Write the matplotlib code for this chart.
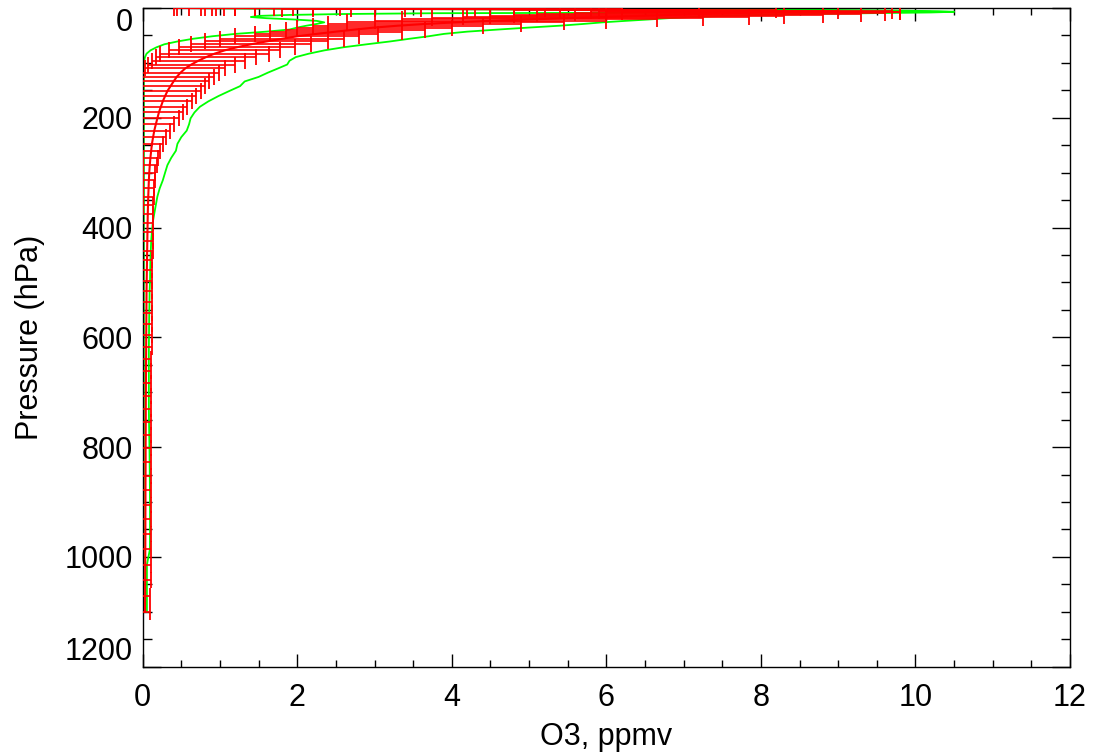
import numpy as np
import matplotlib
matplotlib.use('Agg')
import matplotlib.pyplot as plt
from matplotlib.ticker import MultipleLocator

plt.rcParams['font.family'] = ['Liberation Sans', 'DejaVu Sans']

# pressure levels (hPa)
pressure = [
	0.016, 0.038, 0.077, 0.137, 0.224, 0.345, 0.506, 0.714, 0.975, 1.297,
	1.687, 2.153, 2.701, 3.340, 4.077, 4.920, 5.878, 6.957, 8.165, 9.512,
	11.00, 12.65, 14.46, 16.43, 18.58, 20.92, 23.45, 26.18, 29.12, 32.27,
	35.65, 39.26, 43.10, 47.19, 51.53, 56.13, 60.99, 66.13, 71.54, 77.24,
	83.23, 89.52, 96.11, 103.0, 110.2, 117.8, 125.6, 133.8, 142.4, 151.3,
	160.5, 170.1, 180.0, 190.3, 201.0, 212.0, 223.4, 235.2, 247.4, 260.0,
	272.9, 286.3, 300.0, 314.1, 328.7, 343.6, 359.0, 374.7, 390.9, 407.5,
	424.5, 441.9, 459.7, 478.0, 496.6, 515.7, 535.2, 555.2, 575.5, 596.3,
	617.5, 639.1, 661.2, 683.7, 706.6, 729.9, 753.6, 777.8, 802.4, 827.4,
	852.8, 878.6, 904.9, 931.5, 958.6, 986.1, 1013.9, 1042.2, 1070.9, 1100.0,
]

# mean O3 (ppmv)
o3_mean = [
	0.6, 0.7, 0.9, 1.1, 1.3, 1.5, 1.7, 2.0, 2.4, 2.9,
	3.5, 4.3, 5.2, 6.0, 6.8, 7.4, 7.8, 8.0, 7.9, 7.6,
	7.2, 6.8, 6.4, 6.0, 5.5, 5.0, 4.5, 4.05, 3.65, 3.3,
	3.0, 2.75, 2.5, 2.25, 2.0, 1.8, 1.6, 1.4, 1.22, 1.06,
	0.93, 0.82, 0.72, 0.63, 0.55, 0.49, 0.44, 0.40, 0.36, 0.32,
	0.29, 0.26, 0.235, 0.21, 0.19, 0.17, 0.15, 0.135, 0.12, 0.11,
	0.10, 0.092, 0.085, 0.080, 0.076, 0.072, 0.069, 0.066, 0.064, 0.062,
	0.060, 0.058, 0.056, 0.054, 0.052, 0.050, 0.049, 0.048, 0.047, 0.046,
	0.045, 0.044, 0.043, 0.042, 0.041, 0.040, 0.040, 0.039, 0.038, 0.038,
	0.037, 0.036, 0.036, 0.035, 0.035, 0.034, 0.033, 0.032, 0.031, 0.030,
]

# standard deviation (ppmv)
o3_std = [
	0.2, 0.25, 0.3, 0.35, 0.4, 0.45, 0.5, 0.55, 0.6, 0.7,
	0.8, 0.9, 1.0, 1.2, 1.4, 1.6, 1.9, 1.8, 1.9, 2.0,
	2.1, 2.0, 1.9, 1.85, 1.75, 1.65, 1.5, 1.4, 1.25, 1.1,
	1.0, 0.9, 0.85, 0.8, 0.8, 0.8, 0.8, 0.78, 0.75, 0.72,
	0.7, 0.65, 0.6, 0.56, 0.52, 0.5, 0.48, 0.46, 0.45, 0.43,
	0.4, 0.38, 0.34, 0.31, 0.28, 0.24, 0.2, 0.17, 0.14, 0.12,
	0.10, 0.09, 0.08, 0.075, 0.072, 0.07, 0.07, 0.07, 0.07, 0.07,
	0.07, 0.07, 0.07, 0.07, 0.07, 0.07, 0.07, 0.07, 0.07, 0.07,
	0.07, 0.07, 0.07, 0.07, 0.07, 0.07, 0.07, 0.07, 0.07, 0.07,
	0.07, 0.07, 0.07, 0.07, 0.07, 0.07, 0.07, 0.07, 0.07, 0.07,
]

# envelope (green) profiles
o3_max = [
	2.0, 2.2, 2.5, 2.8, 3.2, 3.6, 4.0, 4.6, 5.2, 5.8,
	6.5, 7.2, 7.9, 8.6, 9.3, 9.9, 10.3, 10.5, 10.2, 9.4,
	8.6, 8.0, 7.5, 7.1, 6.8, 6.55, 6.25, 5.95, 5.7, 5.4,
	5.0, 4.6, 4.2, 3.9, 3.7, 3.45, 3.2, 2.9, 2.6, 2.35,
	2.15, 1.98, 1.9, 1.87, 1.75, 1.62, 1.5, 1.32, 1.26, 1.12,
	0.98, 0.85, 0.74, 0.67, 0.62, 0.60, 0.57, 0.50, 0.45, 0.43,
	0.37, 0.32, 0.29, 0.26, 0.22, 0.19, 0.17, 0.15, 0.13, 0.12,
	0.11, 0.105, 0.10, 0.097, 0.095, 0.090, 0.088, 0.085, 0.083, 0.082,
	0.080, 0.080, 0.080, 0.080, 0.080, 0.080, 0.082, 0.085, 0.088, 0.090,
	0.092, 0.094, 0.095, 0.095, 0.095, 0.094, 0.055, 0.055, 0.055, 0.055,
]

o3_min = [
	0.3, 0.35, 0.4, 0.5, 0.6, 0.7, 0.8, 1.0, 1.3, 1.8,
	2.5, 3.4, 4.5, 5.8, 7.2, 8.6, 9.8, 10.2, 8.2, 3.8,
	2.6, 1.9, 1.5, 1.4, 1.6, 1.95, 2.25, 2.35, 2.25, 2.12,
	2.0, 1.9, 1.6, 1.2, 0.9, 0.65, 0.45, 0.28, 0.18, 0.10,
	0.05, 0.03, 0.02, 0.018, 0.016, 0.015, 0.015, 0.015, 0.015, 0.015,
	0.015, 0.015, 0.015, 0.015, 0.015, 0.015, 0.015, 0.015, 0.015, 0.015,
	0.015, 0.015, 0.015, 0.015, 0.015, 0.015, 0.015, 0.015, 0.015, 0.015,
	0.015, 0.015, 0.015, 0.015, 0.015, 0.015, 0.015, 0.015, 0.015, 0.015,
	0.015, 0.015, 0.015, 0.015, 0.015, 0.015, 0.015, 0.015, 0.015, 0.015,
	0.015, 0.015, 0.014, 0.014, 0.014, 0.013, 0.013, 0.012, 0.012, 0.012,
]

fig = plt.figure(figsize=(10.95, 7.53), dpi=100)
ax = fig.add_axes([0.1303, 0.1146, 0.8469, 0.8748])

ax.plot(o3_max, pressure, color='#00ff00', lw=1.3, zorder=2)
ax.plot(o3_min, pressure, color='#00ff00', lw=1.3, zorder=2)
ax.errorbar(o3_mean, pressure, xerr=o3_std, color='red', ecolor='red',
	lw=1.5, elinewidth=1.2, capsize=5.5, capthick=1.3, zorder=3)

ax.set_xlim(0, 12)
ax.set_ylim(1200, 0)
ax.set_xticks(np.arange(0, 13, 2))
ax.set_yticks(np.arange(0, 1201, 200))
ax.xaxis.set_minor_locator(MultipleLocator(0.5))
ax.yaxis.set_minor_locator(MultipleLocator(50))

ax.tick_params(axis='both', which='both', direction='in', top=True, right=True,
	labelsize=22, width=1, colors='black')
ax.tick_params(axis='x', which='major', length=9.4, pad=12)
ax.tick_params(axis='x', which='minor', length=5)
ax.tick_params(axis='y', which='major', length=13.3, pad=7)
ax.tick_params(axis='y', which='minor', length=6.7)

for s in ax.spines.values():
	s.set_linewidth(1.0)

ax.set_xlabel('O3, ppmv', fontsize=22, labelpad=6)
ax.set_ylabel('Pressure (hPa)', fontsize=22, labelpad=14)

yt = ax.yaxis.get_major_ticks()
yt[0].label1.set_verticalalignment('top')
yt[-1].label1.set_verticalalignment('bottom')

fig.savefig('out.png', dpi=100)
